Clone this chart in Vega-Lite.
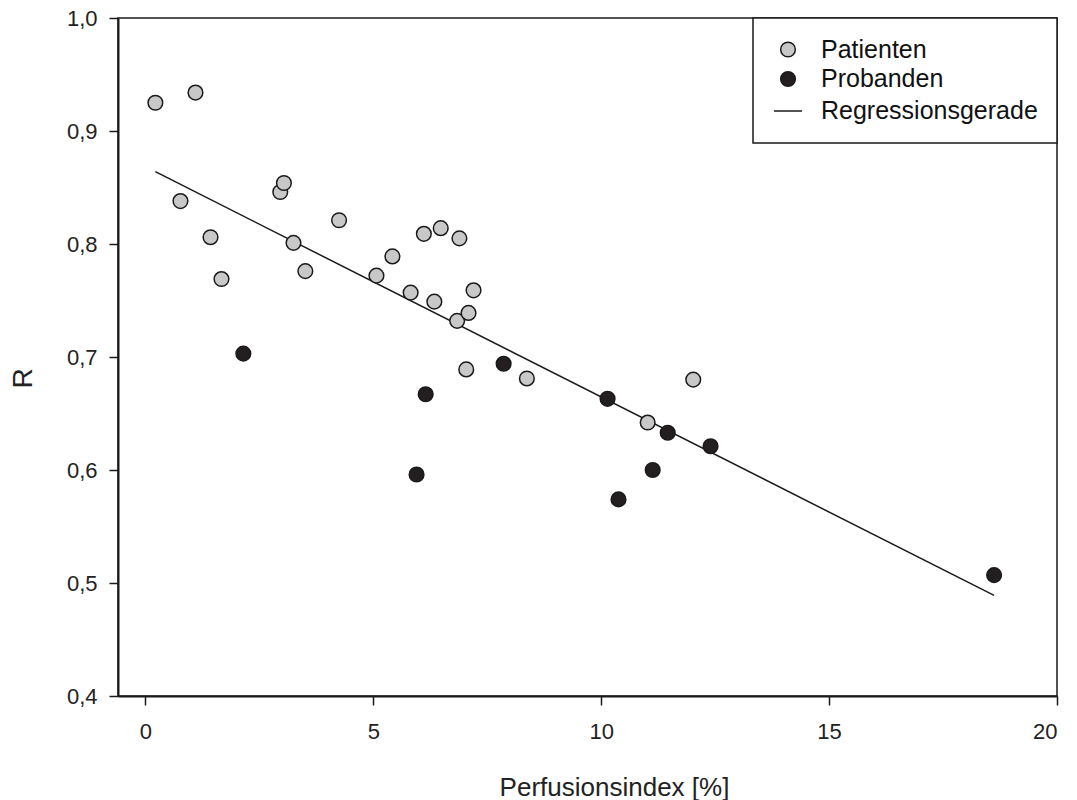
{
  "$schema": "https://vega.github.io/schema/vega-lite/v6.json",
  "width": 939,
  "height": 678,
  "autosize": {"type": "none"},
  "padding": {"left": 118, "top": 18, "right": 20, "bottom": 104},
  "background": "white",
  "config": {
    "font": "Liberation Sans",
    "view": {"stroke": "#1a1a1a", "strokeWidth": 1.5},
    "axis": {
      "domainColor": "#1a1a1a", "domainWidth": 2,
      "tickColor": "#1a1a1a", "tickWidth": 1.5, "tickSize": 9,
      "labelFont": "Liberation Sans", "labelFontSize": 22, "labelColor": "#222",
      "titleFont": "Liberation Sans", "titleFontSize": 26, "titleFontWeight": "normal", "titleColor": "#222",
      "grid": false
    },
    "legend": {
      "orient": "top-right", "offset": 0,
      "strokeColor": "#1a1a1a", "strokeWidth": 1.5, "fillColor": "white",
      "padding": 19, "rowPadding": 3.5, "labelOffset": 18, "labelLimit": 400,
      "labelFont": "Liberation Sans", "labelFontSize": 25, "labelColor": "#111",
      "symbolOffset": 1, "symbolStrokeWidth": 1.5
    }
  },
  "datasets": {
    "pts": [
      {"pi": 0.22, "r": 0.925, "group": "Patienten"},
      {"pi": 1.10, "r": 0.934, "group": "Patienten"},
      {"pi": 0.77, "r": 0.838, "group": "Patienten"},
      {"pi": 1.43, "r": 0.806, "group": "Patienten"},
      {"pi": 1.67, "r": 0.769, "group": "Patienten"},
      {"pi": 2.96, "r": 0.846, "group": "Patienten"},
      {"pi": 3.04, "r": 0.854, "group": "Patienten"},
      {"pi": 3.25, "r": 0.801, "group": "Patienten"},
      {"pi": 3.51, "r": 0.776, "group": "Patienten"},
      {"pi": 4.25, "r": 0.821, "group": "Patienten"},
      {"pi": 5.07, "r": 0.772, "group": "Patienten"},
      {"pi": 5.42, "r": 0.789, "group": "Patienten"},
      {"pi": 5.82, "r": 0.757, "group": "Patienten"},
      {"pi": 6.11, "r": 0.809, "group": "Patienten"},
      {"pi": 6.34, "r": 0.749, "group": "Patienten"},
      {"pi": 6.48, "r": 0.814, "group": "Patienten"},
      {"pi": 6.89, "r": 0.805, "group": "Patienten"},
      {"pi": 6.84, "r": 0.732, "group": "Patienten"},
      {"pi": 7.09, "r": 0.739, "group": "Patienten"},
      {"pi": 7.20, "r": 0.759, "group": "Patienten"},
      {"pi": 7.04, "r": 0.689, "group": "Patienten"},
      {"pi": 8.37, "r": 0.681, "group": "Patienten"},
      {"pi": 11.02, "r": 0.642, "group": "Patienten"},
      {"pi": 12.02, "r": 0.680, "group": "Patienten"},
      {"pi": 2.15, "r": 0.703, "group": "Probanden"},
      {"pi": 6.15, "r": 0.667, "group": "Probanden"},
      {"pi": 5.95, "r": 0.596, "group": "Probanden"},
      {"pi": 7.86, "r": 0.694, "group": "Probanden"},
      {"pi": 10.14, "r": 0.663, "group": "Probanden"},
      {"pi": 10.38, "r": 0.574, "group": "Probanden"},
      {"pi": 11.13, "r": 0.600, "group": "Probanden"},
      {"pi": 11.46, "r": 0.633, "group": "Probanden"},
      {"pi": 12.40, "r": 0.621, "group": "Probanden"},
      {"pi": 18.62, "r": 0.507, "group": "Probanden"}
    ],
    "reg": [
      {"pi": 0.22, "r": 0.864},
      {"pi": 18.62, "r": 0.489}
    ]
  },
  "layer": [
    {
      "data": {"name": "reg"},
      "mark": {"type": "line", "color": "#1a1a1a", "strokeWidth": 1.5},
      "encoding": {
        "x": {"field": "pi", "type": "quantitative"},
        "y": {"field": "r", "type": "quantitative"}
      }
    },
    {
      "data": {"name": "pts"},
      "mark": {"type": "point", "filled": true, "opacity": 1, "strokeWidth": 1.5},
      "encoding": {
        "x": {
          "field": "pi", "type": "quantitative",
          "scale": {"domain": [-0.6, 20], "nice": false, "zero": false},
          "axis": {"title": "Perfusionsindex [%]", "values": [0, 5, 10, 15, 20], "format": "d", "labelPadding": 16, "titlePadding": 32, "titleX": 496}
        },
        "y": {
          "field": "r", "type": "quantitative",
          "scale": {"domain": [0.4, 1.0], "nice": false, "zero": false},
          "axis": {"title": "R", "titleFontSize": 28, "values": [0.4, 0.5, 0.6, 0.7, 0.8, 0.9, 1.0], "labelExpr": "replace(format(datum.value, '.1f'), '.', ',')", "labelPadding": 12, "titlePadding": 29, "titleY": 360}
        },
        "fill": {
          "field": "group", "type": "nominal",
          "scale": {"domain": ["Patienten", "Probanden", "Regressionsgerade"], "range": ["#c8c8c8", "#231f20", "#1a1a1a"]},
          "legend": {"title": null}
        },
        "stroke": {
          "field": "group", "type": "nominal",
          "scale": {"domain": ["Patienten", "Probanden", "Regressionsgerade"], "range": ["#1a1a1a", "#1a1a1a", "#1a1a1a"]},
          "legend": {"title": null}
        },
        "shape": {
          "field": "group", "type": "nominal",
          "scale": {"domain": ["Patienten", "Probanden", "Regressionsgerade"], "range": ["circle", "circle", "stroke"]},
          "legend": {"title": null}
        },
        "size": {
          "field": "group", "type": "nominal",
          "scale": {"type": "ordinal", "domain": ["Patienten", "Probanden", "Regressionsgerade"], "range": [215, 215, 784]},
          "legend": {"title": null}
        }
      }
    }
  ]
}
